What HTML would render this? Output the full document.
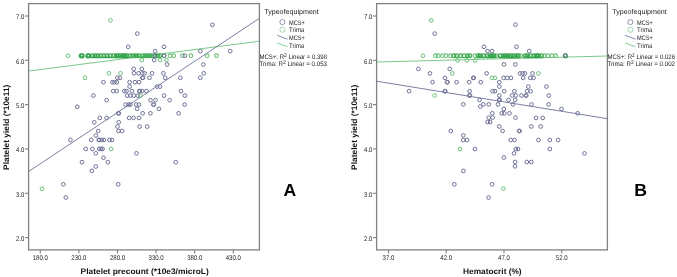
<!DOCTYPE html>
<html><head><meta charset="utf-8"><style>
html,body{margin:0;padding:0;background:#fff;width:677px;height:277px;overflow:hidden}
svg{display:block;filter:blur(0.3px);font-family:"Liberation Sans",sans-serif;text-rendering:geometricPrecision}
.ax{stroke:#808080;stroke-width:1.1}
.frame{fill:none;stroke:#808080;stroke-width:1.3}
.tk{font-size:6.8px;fill:#262626}
.ttl{font-size:8.1px;font-weight:bold;fill:#111}
.lg{font-size:6.6px;fill:#222}
.lg7{font-size:7px;fill:#222}
.bcl{fill:none;stroke:#8a8eac;stroke-width:0.95}
.gcl{fill:none;stroke:#9fd4a8;stroke-width:0.95}
.big{font-size:17.6px;font-weight:bold;fill:#000}
.bc{fill:none;stroke:#6e7297;stroke-width:1.0}
.gc{fill:none;stroke:#6cc07a;stroke-width:1.0}
.gb{fill:none;stroke:#42ad56;stroke-width:1.35}
.gd{fill:none;stroke:#36a44c;stroke-width:1.45}
.gl{fill:none;stroke:#6cc07a;stroke-width:1.1}
</style></head><body>
<svg width="677" height="277" viewBox="0 0 677 277">
<rect width="677" height="277" fill="#fff"/>
<line x1="28.5" y1="71.1" x2="259.4" y2="41.2" stroke="#7cc98a" stroke-width="1"/>
<line x1="28.5" y1="171.6" x2="259.4" y2="18.3" stroke="#7c80a6" stroke-width="1"/>
<line x1="376.5" y1="62" x2="607.4" y2="56" stroke="#7cc98a" stroke-width="1"/>
<line x1="376.5" y1="81.2" x2="607.4" y2="118.7" stroke="#7c80a6" stroke-width="1"/>
<g class="gl">
<circle cx="164.0" cy="55.7" r="1.85"/>
<circle cx="169.9" cy="55.7" r="1.85"/>
<circle cx="173.6" cy="55.7" r="1.85"/>
<circle cx="182.4" cy="55.7" r="1.85"/>
<circle cx="190.9" cy="55.7" r="1.85"/>
<circle cx="207.2" cy="55.7" r="1.85"/>
<circle cx="216.4" cy="55.7" r="1.85"/>
<circle cx="435.5" cy="55.7" r="1.85"/>
<circle cx="438.3" cy="55.7" r="1.85"/>
<circle cx="442.6" cy="55.7" r="1.85"/>
<circle cx="446.0" cy="55.7" r="1.85"/>
<circle cx="450.4" cy="55.7" r="1.85"/>
<circle cx="474.8" cy="55.7" r="1.85"/>
<circle cx="496.2" cy="55.7" r="1.85"/>
<circle cx="520.6" cy="55.7" r="1.85"/>
<circle cx="544.5" cy="55.7" r="1.85"/>
<circle cx="547.6" cy="55.7" r="1.85"/>
<circle cx="551.8" cy="55.7" r="1.85"/>
<circle cx="555.6" cy="55.7" r="1.85"/>
</g>
<g class="gb">
<circle cx="130.1" cy="55.7" r="1.85"/>
<circle cx="132.7" cy="55.7" r="1.85"/>
<circle cx="135.0" cy="55.7" r="1.85"/>
<circle cx="137.2" cy="55.7" r="1.85"/>
<circle cx="139.4" cy="55.7" r="1.85"/>
<circle cx="143.1" cy="55.7" r="1.85"/>
<circle cx="145.3" cy="55.7" r="1.85"/>
<circle cx="147.5" cy="55.7" r="1.85"/>
<circle cx="149.7" cy="55.7" r="1.85"/>
<circle cx="152.0" cy="55.7" r="1.85"/>
<circle cx="154.9" cy="55.7" r="1.85"/>
<circle cx="157.5" cy="55.7" r="1.85"/>
<circle cx="159.7" cy="55.7" r="1.85"/>
<circle cx="453.9" cy="55.7" r="1.85"/>
<circle cx="456.6" cy="55.7" r="1.85"/>
<circle cx="460.6" cy="55.7" r="1.85"/>
<circle cx="464.1" cy="55.7" r="1.85"/>
<circle cx="467.5" cy="55.7" r="1.85"/>
<circle cx="469.8" cy="55.7" r="1.85"/>
</g>
<g class="gd">
<circle cx="81.3" cy="55.7" r="1.85"/>
<circle cx="82.1" cy="55.7" r="1.85"/>
<circle cx="87.9" cy="55.7" r="1.85"/>
<circle cx="88.7" cy="55.7" r="1.85"/>
<circle cx="92.5" cy="55.7" r="1.85"/>
<circle cx="95.2" cy="55.7" r="1.85"/>
<circle cx="97.8" cy="55.7" r="1.85"/>
<circle cx="100.8" cy="55.7" r="1.85"/>
<circle cx="104.0" cy="55.7" r="1.85"/>
<circle cx="107.0" cy="55.7" r="1.85"/>
<circle cx="110.2" cy="55.7" r="1.85"/>
<circle cx="113.5" cy="55.7" r="1.85"/>
<circle cx="116.5" cy="55.7" r="1.85"/>
<circle cx="118.3" cy="55.7" r="1.85"/>
<circle cx="120.5" cy="55.7" r="1.85"/>
<circle cx="122.8" cy="55.7" r="1.85"/>
<circle cx="125.0" cy="55.7" r="1.85"/>
<circle cx="126.8" cy="55.7" r="1.85"/>
<circle cx="478.3" cy="55.7" r="1.85"/>
<circle cx="480.3" cy="55.7" r="1.85"/>
<circle cx="483.6" cy="55.7" r="1.85"/>
<circle cx="487.3" cy="55.7" r="1.85"/>
<circle cx="490.0" cy="55.7" r="1.85"/>
<circle cx="492.0" cy="55.7" r="1.85"/>
<circle cx="494.0" cy="55.7" r="1.85"/>
<circle cx="500.3" cy="55.7" r="1.85"/>
<circle cx="503.3" cy="55.7" r="1.85"/>
<circle cx="505.5" cy="55.7" r="1.85"/>
<circle cx="507.9" cy="55.7" r="1.85"/>
<circle cx="510.6" cy="55.7" r="1.85"/>
<circle cx="513.2" cy="55.7" r="1.85"/>
<circle cx="515.9" cy="55.7" r="1.85"/>
<circle cx="518.2" cy="55.7" r="1.85"/>
<circle cx="525.3" cy="55.7" r="1.85"/>
<circle cx="527.6" cy="55.7" r="1.85"/>
<circle cx="530.7" cy="55.7" r="1.85"/>
<circle cx="534.1" cy="55.7" r="1.85"/>
<circle cx="536.5" cy="55.7" r="1.85"/>
<circle cx="538.3" cy="55.7" r="1.85"/>
<circle cx="541.2" cy="55.7" r="1.85"/>
<circle cx="565.4" cy="55.7" r="1.85"/>
</g>
<g class="gc">
<circle cx="110.5" cy="20.4" r="1.85"/>
<circle cx="67.9" cy="55.7" r="1.85"/>
<circle cx="141.8" cy="60.1" r="1.85"/>
<circle cx="160.1" cy="60.1" r="1.85"/>
<circle cx="166.5" cy="60.1" r="1.85"/>
<circle cx="108.9" cy="73.3" r="1.85"/>
<circle cx="120.5" cy="73.3" r="1.85"/>
<circle cx="85.0" cy="77.8" r="1.85"/>
<circle cx="140.4" cy="95.6" r="1.85"/>
<circle cx="111.1" cy="148.9" r="1.85"/>
<circle cx="42.0" cy="188.8" r="1.85"/>
<circle cx="431.2" cy="20.4" r="1.85"/>
<circle cx="423.0" cy="55.7" r="1.85"/>
<circle cx="457.5" cy="60.4" r="1.85"/>
<circle cx="466.8" cy="60.4" r="1.85"/>
<circle cx="475.2" cy="60.4" r="1.85"/>
<circle cx="452.3" cy="73.4" r="1.85"/>
<circle cx="538.4" cy="73.4" r="1.85"/>
<circle cx="491.9" cy="77.9" r="1.85"/>
<circle cx="495.0" cy="77.9" r="1.85"/>
<circle cx="434.7" cy="95.5" r="1.85"/>
<circle cx="460.0" cy="149.0" r="1.85"/>
<circle cx="503.4" cy="188.6" r="1.85"/>
</g>
<g class="bc">
<circle cx="137.3" cy="33.6" r="1.85"/>
<circle cx="212.4" cy="24.8" r="1.85"/>
<circle cx="128.2" cy="46.8" r="1.85"/>
<circle cx="164.0" cy="46.8" r="1.85"/>
<circle cx="155.2" cy="51.2" r="1.85"/>
<circle cx="200.3" cy="51.2" r="1.85"/>
<circle cx="230.2" cy="51.2" r="1.85"/>
<circle cx="154.9" cy="55.7" r="1.85"/>
<circle cx="164.0" cy="55.7" r="1.85"/>
<circle cx="184.9" cy="55.7" r="1.85"/>
<circle cx="154.2" cy="60.1" r="1.85"/>
<circle cx="167.1" cy="64.5" r="1.85"/>
<circle cx="203.3" cy="64.5" r="1.85"/>
<circle cx="133.7" cy="68.9" r="1.85"/>
<circle cx="141.8" cy="68.9" r="1.85"/>
<circle cx="134.0" cy="73.3" r="1.85"/>
<circle cx="138.6" cy="73.3" r="1.85"/>
<circle cx="142.3" cy="73.3" r="1.85"/>
<circle cx="144.6" cy="73.3" r="1.85"/>
<circle cx="152.1" cy="73.3" r="1.85"/>
<circle cx="163.4" cy="73.3" r="1.85"/>
<circle cx="203.7" cy="73.3" r="1.85"/>
<circle cx="117.3" cy="77.8" r="1.85"/>
<circle cx="119.9" cy="77.8" r="1.85"/>
<circle cx="142.4" cy="77.8" r="1.85"/>
<circle cx="142.9" cy="77.8" r="1.85"/>
<circle cx="149.5" cy="77.8" r="1.85"/>
<circle cx="165.2" cy="77.8" r="1.85"/>
<circle cx="180.4" cy="77.8" r="1.85"/>
<circle cx="200.3" cy="77.8" r="1.85"/>
<circle cx="103.4" cy="82.2" r="1.85"/>
<circle cx="112.4" cy="82.2" r="1.85"/>
<circle cx="114.5" cy="82.2" r="1.85"/>
<circle cx="116.8" cy="82.2" r="1.85"/>
<circle cx="129.6" cy="82.2" r="1.85"/>
<circle cx="135.0" cy="82.2" r="1.85"/>
<circle cx="139.0" cy="82.2" r="1.85"/>
<circle cx="129.6" cy="86.6" r="1.85"/>
<circle cx="157.0" cy="86.6" r="1.85"/>
<circle cx="160.0" cy="86.6" r="1.85"/>
<circle cx="113.3" cy="91.1" r="1.85"/>
<circle cx="116.6" cy="91.1" r="1.85"/>
<circle cx="124.3" cy="91.1" r="1.85"/>
<circle cx="126.5" cy="91.1" r="1.85"/>
<circle cx="131.9" cy="91.1" r="1.85"/>
<circle cx="139.3" cy="91.1" r="1.85"/>
<circle cx="139.8" cy="91.1" r="1.85"/>
<circle cx="142.2" cy="91.1" r="1.85"/>
<circle cx="146.4" cy="91.1" r="1.85"/>
<circle cx="181.0" cy="91.1" r="1.85"/>
<circle cx="93.4" cy="95.6" r="1.85"/>
<circle cx="127.2" cy="95.6" r="1.85"/>
<circle cx="130.3" cy="95.6" r="1.85"/>
<circle cx="133.9" cy="95.6" r="1.85"/>
<circle cx="137.6" cy="95.6" r="1.85"/>
<circle cx="164.0" cy="95.6" r="1.85"/>
<circle cx="184.9" cy="95.6" r="1.85"/>
<circle cx="106.6" cy="100.2" r="1.85"/>
<circle cx="150.5" cy="100.2" r="1.85"/>
<circle cx="155.5" cy="100.2" r="1.85"/>
<circle cx="169.6" cy="100.2" r="1.85"/>
<circle cx="125.5" cy="104.6" r="1.85"/>
<circle cx="128.6" cy="104.6" r="1.85"/>
<circle cx="130.4" cy="104.6" r="1.85"/>
<circle cx="136.2" cy="104.6" r="1.85"/>
<circle cx="139.0" cy="104.6" r="1.85"/>
<circle cx="153.3" cy="104.6" r="1.85"/>
<circle cx="153.8" cy="104.6" r="1.85"/>
<circle cx="184.6" cy="104.6" r="1.85"/>
<circle cx="77.3" cy="106.8" r="1.85"/>
<circle cx="137.1" cy="108.8" r="1.85"/>
<circle cx="158.9" cy="108.8" r="1.85"/>
<circle cx="118.3" cy="113.3" r="1.85"/>
<circle cx="118.8" cy="113.3" r="1.85"/>
<circle cx="142.7" cy="113.3" r="1.85"/>
<circle cx="150.4" cy="113.3" r="1.85"/>
<circle cx="178.6" cy="113.3" r="1.85"/>
<circle cx="99.8" cy="117.9" r="1.85"/>
<circle cx="106.6" cy="117.9" r="1.85"/>
<circle cx="129.2" cy="117.9" r="1.85"/>
<circle cx="133.5" cy="117.9" r="1.85"/>
<circle cx="139.0" cy="117.9" r="1.85"/>
<circle cx="94.3" cy="122.3" r="1.85"/>
<circle cx="118.7" cy="122.3" r="1.85"/>
<circle cx="117.5" cy="126.6" r="1.85"/>
<circle cx="139.6" cy="126.6" r="1.85"/>
<circle cx="147.2" cy="126.6" r="1.85"/>
<circle cx="98.2" cy="131.0" r="1.85"/>
<circle cx="118.5" cy="131.0" r="1.85"/>
<circle cx="122.2" cy="131.0" r="1.85"/>
<circle cx="95.8" cy="135.5" r="1.85"/>
<circle cx="70.4" cy="139.9" r="1.85"/>
<circle cx="91.2" cy="139.9" r="1.85"/>
<circle cx="98.8" cy="139.9" r="1.85"/>
<circle cx="99.3" cy="139.9" r="1.85"/>
<circle cx="101.7" cy="139.9" r="1.85"/>
<circle cx="104.0" cy="139.9" r="1.85"/>
<circle cx="109.4" cy="139.9" r="1.85"/>
<circle cx="112.0" cy="139.9" r="1.85"/>
<circle cx="85.7" cy="148.9" r="1.85"/>
<circle cx="92.4" cy="148.9" r="1.85"/>
<circle cx="99.2" cy="148.9" r="1.85"/>
<circle cx="101.0" cy="148.9" r="1.85"/>
<circle cx="102.5" cy="148.9" r="1.85"/>
<circle cx="95.8" cy="153.3" r="1.85"/>
<circle cx="136.5" cy="153.3" r="1.85"/>
<circle cx="103.5" cy="157.7" r="1.85"/>
<circle cx="82.0" cy="162.2" r="1.85"/>
<circle cx="107.8" cy="162.2" r="1.85"/>
<circle cx="175.7" cy="162.2" r="1.85"/>
<circle cx="95.8" cy="166.5" r="1.85"/>
<circle cx="91.8" cy="170.8" r="1.85"/>
<circle cx="63.4" cy="184.3" r="1.85"/>
<circle cx="118.2" cy="184.3" r="1.85"/>
<circle cx="65.8" cy="197.5" r="1.85"/>
<circle cx="434.7" cy="33.6" r="1.85"/>
<circle cx="515.5" cy="24.7" r="1.85"/>
<circle cx="484.0" cy="46.8" r="1.85"/>
<circle cx="516.5" cy="46.8" r="1.85"/>
<circle cx="487.5" cy="51.1" r="1.85"/>
<circle cx="492.0" cy="51.1" r="1.85"/>
<circle cx="529.2" cy="51.1" r="1.85"/>
<circle cx="565.2" cy="55.7" r="1.85"/>
<circle cx="504.0" cy="64.4" r="1.85"/>
<circle cx="515.3" cy="64.4" r="1.85"/>
<circle cx="418.4" cy="68.9" r="1.85"/>
<circle cx="449.7" cy="68.9" r="1.85"/>
<circle cx="430.0" cy="73.4" r="1.85"/>
<circle cx="486.6" cy="73.4" r="1.85"/>
<circle cx="520.1" cy="73.4" r="1.85"/>
<circle cx="522.6" cy="73.4" r="1.85"/>
<circle cx="525.0" cy="73.4" r="1.85"/>
<circle cx="532.5" cy="73.4" r="1.85"/>
<circle cx="445.0" cy="77.9" r="1.85"/>
<circle cx="473.2" cy="77.9" r="1.85"/>
<circle cx="473.8" cy="77.9" r="1.85"/>
<circle cx="503.6" cy="77.9" r="1.85"/>
<circle cx="507.2" cy="77.9" r="1.85"/>
<circle cx="510.9" cy="77.9" r="1.85"/>
<circle cx="523.2" cy="77.9" r="1.85"/>
<circle cx="530.3" cy="77.9" r="1.85"/>
<circle cx="533.5" cy="77.9" r="1.85"/>
<circle cx="432.5" cy="82.2" r="1.85"/>
<circle cx="447.0" cy="82.2" r="1.85"/>
<circle cx="447.5" cy="82.2" r="1.85"/>
<circle cx="456.6" cy="82.2" r="1.85"/>
<circle cx="469.2" cy="82.2" r="1.85"/>
<circle cx="480.8" cy="82.2" r="1.85"/>
<circle cx="499.3" cy="82.2" r="1.85"/>
<circle cx="499.3" cy="86.6" r="1.85"/>
<circle cx="528.3" cy="86.6" r="1.85"/>
<circle cx="546.4" cy="86.6" r="1.85"/>
<circle cx="409.1" cy="91.2" r="1.85"/>
<circle cx="444.8" cy="91.2" r="1.85"/>
<circle cx="445.3" cy="91.2" r="1.85"/>
<circle cx="469.6" cy="91.2" r="1.85"/>
<circle cx="492.5" cy="91.2" r="1.85"/>
<circle cx="495.0" cy="91.2" r="1.85"/>
<circle cx="504.2" cy="91.2" r="1.85"/>
<circle cx="514.4" cy="91.2" r="1.85"/>
<circle cx="527.1" cy="91.2" r="1.85"/>
<circle cx="530.6" cy="91.2" r="1.85"/>
<circle cx="469.4" cy="95.5" r="1.85"/>
<circle cx="469.9" cy="95.5" r="1.85"/>
<circle cx="499.3" cy="95.5" r="1.85"/>
<circle cx="512.2" cy="95.5" r="1.85"/>
<circle cx="515.7" cy="95.5" r="1.85"/>
<circle cx="521.4" cy="95.5" r="1.85"/>
<circle cx="525.8" cy="95.5" r="1.85"/>
<circle cx="526.3" cy="95.5" r="1.85"/>
<circle cx="548.8" cy="95.5" r="1.85"/>
<circle cx="479.6" cy="99.9" r="1.85"/>
<circle cx="499.1" cy="99.9" r="1.85"/>
<circle cx="499.6" cy="99.9" r="1.85"/>
<circle cx="508.5" cy="99.9" r="1.85"/>
<circle cx="515.2" cy="99.9" r="1.85"/>
<circle cx="463.3" cy="104.4" r="1.85"/>
<circle cx="483.3" cy="104.4" r="1.85"/>
<circle cx="488.8" cy="104.4" r="1.85"/>
<circle cx="498.0" cy="104.4" r="1.85"/>
<circle cx="513.0" cy="104.4" r="1.85"/>
<circle cx="531.5" cy="104.4" r="1.85"/>
<circle cx="548.6" cy="104.4" r="1.85"/>
<circle cx="480.3" cy="106.5" r="1.85"/>
<circle cx="503.8" cy="108.9" r="1.85"/>
<circle cx="561.5" cy="108.9" r="1.85"/>
<circle cx="492.3" cy="113.3" r="1.85"/>
<circle cx="501.7" cy="113.3" r="1.85"/>
<circle cx="504.2" cy="113.3" r="1.85"/>
<circle cx="509.5" cy="113.3" r="1.85"/>
<circle cx="577.6" cy="113.3" r="1.85"/>
<circle cx="488.8" cy="117.6" r="1.85"/>
<circle cx="492.5" cy="117.6" r="1.85"/>
<circle cx="515.5" cy="117.6" r="1.85"/>
<circle cx="536.1" cy="117.9" r="1.85"/>
<circle cx="542.7" cy="117.9" r="1.85"/>
<circle cx="487.6" cy="122.0" r="1.85"/>
<circle cx="490.1" cy="122.0" r="1.85"/>
<circle cx="499.3" cy="126.5" r="1.85"/>
<circle cx="531.3" cy="126.5" r="1.85"/>
<circle cx="540.6" cy="126.5" r="1.85"/>
<circle cx="450.8" cy="131.0" r="1.85"/>
<circle cx="502.6" cy="131.0" r="1.85"/>
<circle cx="519.1" cy="131.0" r="1.85"/>
<circle cx="519.6" cy="131.0" r="1.85"/>
<circle cx="463.3" cy="135.4" r="1.85"/>
<circle cx="463.3" cy="140.0" r="1.85"/>
<circle cx="467.0" cy="140.0" r="1.85"/>
<circle cx="510.7" cy="140.0" r="1.85"/>
<circle cx="514.4" cy="140.0" r="1.85"/>
<circle cx="538.5" cy="140.0" r="1.85"/>
<circle cx="549.8" cy="140.0" r="1.85"/>
<circle cx="558.1" cy="140.0" r="1.85"/>
<circle cx="475.0" cy="149.0" r="1.85"/>
<circle cx="515.8" cy="149.0" r="1.85"/>
<circle cx="518.0" cy="149.0" r="1.85"/>
<circle cx="549.8" cy="149.0" r="1.85"/>
<circle cx="514.0" cy="153.4" r="1.85"/>
<circle cx="584.5" cy="153.4" r="1.85"/>
<circle cx="503.9" cy="157.5" r="1.85"/>
<circle cx="515.2" cy="162.0" r="1.85"/>
<circle cx="526.8" cy="162.0" r="1.85"/>
<circle cx="531.3" cy="162.0" r="1.85"/>
<circle cx="515.0" cy="166.3" r="1.85"/>
<circle cx="463.4" cy="170.9" r="1.85"/>
<circle cx="454.3" cy="184.3" r="1.85"/>
<circle cx="492.2" cy="184.3" r="1.85"/>
<circle cx="488.6" cy="197.6" r="1.85"/>
</g>
<line x1="25.0" y1="16.0" x2="28.6" y2="16.0" class="ax"/>
<text x="16.09" y="19.3" class="tk" textLength="8.31" lengthAdjust="spacingAndGlyphs">7.0</text>
<line x1="25.0" y1="60.3" x2="28.6" y2="60.3" class="ax"/>
<text x="16.09" y="63.6" class="tk" textLength="8.31" lengthAdjust="spacingAndGlyphs">6.0</text>
<line x1="25.0" y1="104.6" x2="28.6" y2="104.6" class="ax"/>
<text x="16.09" y="107.9" class="tk" textLength="8.31" lengthAdjust="spacingAndGlyphs">5.0</text>
<line x1="25.0" y1="149.0" x2="28.6" y2="149.0" class="ax"/>
<text x="16.09" y="152.3" class="tk" textLength="8.31" lengthAdjust="spacingAndGlyphs">4.0</text>
<line x1="25.0" y1="193.3" x2="28.6" y2="193.3" class="ax"/>
<text x="16.09" y="196.6" class="tk" textLength="8.31" lengthAdjust="spacingAndGlyphs">3.0</text>
<line x1="25.0" y1="237.6" x2="28.6" y2="237.6" class="ax"/>
<text x="16.09" y="240.9" class="tk" textLength="8.31" lengthAdjust="spacingAndGlyphs">2.0</text>
<line x1="40.3" y1="249.9" x2="40.3" y2="253.5" class="ax"/>
<text x="32.73" y="259.9" class="tk" textLength="15.14" lengthAdjust="spacingAndGlyphs">180.0</text>
<line x1="78.9" y1="249.9" x2="78.9" y2="253.5" class="ax"/>
<text x="71.33" y="259.9" class="tk" textLength="15.14" lengthAdjust="spacingAndGlyphs">230.0</text>
<line x1="117.5" y1="249.9" x2="117.5" y2="253.5" class="ax"/>
<text x="109.93" y="259.9" class="tk" textLength="15.14" lengthAdjust="spacingAndGlyphs">280.0</text>
<line x1="156.1" y1="249.9" x2="156.1" y2="253.5" class="ax"/>
<text x="148.53" y="259.9" class="tk" textLength="15.14" lengthAdjust="spacingAndGlyphs">330.0</text>
<line x1="194.7" y1="249.9" x2="194.7" y2="253.5" class="ax"/>
<text x="187.13" y="259.9" class="tk" textLength="15.14" lengthAdjust="spacingAndGlyphs">380.0</text>
<line x1="233.3" y1="249.9" x2="233.3" y2="253.5" class="ax"/>
<text x="225.73" y="259.9" class="tk" textLength="15.14" lengthAdjust="spacingAndGlyphs">430.0</text>
<rect x="28.60" y="3.60" width="230.80" height="246.30" class="frame"/>
<text x="80.6" y="273.7" class="ttl" textLength="128.1" lengthAdjust="spacingAndGlyphs">Platelet precount (*10e3/microL)</text>
<text transform="translate(9.3,169.9) rotate(-90)" class="ttl" textLength="85.3" lengthAdjust="spacingAndGlyphs">Platelet yield (*10e11)</text>
<text x="264.2" y="13.5" class="lg7" textLength="54.6" lengthAdjust="spacingAndGlyphs">Typeofequipment</text>
<circle cx="282.4" cy="22.1" r="2.55" class="bcl"/>
<text x="289.1" y="24.6" class="lg" textLength="15.8" lengthAdjust="spacingAndGlyphs">MCS+</text>
<circle cx="282.4" cy="29.7" r="2.55" class="gcl"/>
<text x="289.1" y="32.3" class="lg" textLength="15.2" lengthAdjust="spacingAndGlyphs">Trima</text>
<line x1="277.0" y1="35.3" x2="287.6" y2="39.2" stroke="#7c80a6" stroke-width="0.9"/>
<text x="289.1" y="40.4" class="lg" textLength="15.8" lengthAdjust="spacingAndGlyphs">MCS+</text>
<line x1="277.0" y1="43.1" x2="287.6" y2="46.7" stroke="#7cc98a" stroke-width="0.9"/>
<text x="289.1" y="48.2" class="lg" textLength="15.2" lengthAdjust="spacingAndGlyphs">Trima</text>
<text x="259.5" y="59.0" class="lg" textLength="67.5" lengthAdjust="spacingAndGlyphs">MCS+: R<tspan dy="-2.4" font-size="5.3">2</tspan><tspan dy="2.4"> Linear = 0.398</tspan></text>
<text x="259.5" y="66.0" class="lg" textLength="67.5" lengthAdjust="spacingAndGlyphs">Trima: R<tspan dy="-2.4" font-size="5.3">2</tspan><tspan dy="2.4"> Linear = 0.053</tspan></text>
<text x="283.6" y="196" class="big">A</text>
<line x1="373.0" y1="16.0" x2="376.6" y2="16.0" class="ax"/>
<text x="364.09" y="19.3" class="tk" textLength="8.31" lengthAdjust="spacingAndGlyphs">7.0</text>
<line x1="373.0" y1="60.3" x2="376.6" y2="60.3" class="ax"/>
<text x="364.09" y="63.6" class="tk" textLength="8.31" lengthAdjust="spacingAndGlyphs">6.0</text>
<line x1="373.0" y1="104.6" x2="376.6" y2="104.6" class="ax"/>
<text x="364.09" y="107.9" class="tk" textLength="8.31" lengthAdjust="spacingAndGlyphs">5.0</text>
<line x1="373.0" y1="149.0" x2="376.6" y2="149.0" class="ax"/>
<text x="364.09" y="152.3" class="tk" textLength="8.31" lengthAdjust="spacingAndGlyphs">4.0</text>
<line x1="373.0" y1="193.3" x2="376.6" y2="193.3" class="ax"/>
<text x="364.09" y="196.6" class="tk" textLength="8.31" lengthAdjust="spacingAndGlyphs">3.0</text>
<line x1="373.0" y1="237.6" x2="376.6" y2="237.6" class="ax"/>
<text x="364.09" y="240.9" class="tk" textLength="8.31" lengthAdjust="spacingAndGlyphs">2.0</text>
<line x1="388.5" y1="249.9" x2="388.5" y2="253.5" class="ax"/>
<text x="382.61" y="259.9" class="tk" textLength="11.77" lengthAdjust="spacingAndGlyphs">37.0</text>
<line x1="446.2" y1="249.9" x2="446.2" y2="253.5" class="ax"/>
<text x="440.31" y="259.9" class="tk" textLength="11.77" lengthAdjust="spacingAndGlyphs">42.0</text>
<line x1="504.0" y1="249.9" x2="504.0" y2="253.5" class="ax"/>
<text x="498.11" y="259.9" class="tk" textLength="11.77" lengthAdjust="spacingAndGlyphs">47.0</text>
<line x1="561.7" y1="249.9" x2="561.7" y2="253.5" class="ax"/>
<text x="555.81" y="259.9" class="tk" textLength="11.77" lengthAdjust="spacingAndGlyphs">52.0</text>
<rect x="376.60" y="3.60" width="230.80" height="246.30" class="frame"/>
<text x="463.1" y="273.7" class="ttl" textLength="58.5" lengthAdjust="spacingAndGlyphs">Hematocrit (%)</text>
<text transform="translate(357.3,169.9) rotate(-90)" class="ttl" textLength="85.3" lengthAdjust="spacingAndGlyphs">Platelet yield (*10e11)</text>
<text x="612.2" y="13.5" class="lg7" textLength="54.6" lengthAdjust="spacingAndGlyphs">Typeofequipment</text>
<circle cx="630.4" cy="22.1" r="2.55" class="bcl"/>
<text x="637.1" y="24.6" class="lg" textLength="15.8" lengthAdjust="spacingAndGlyphs">MCS+</text>
<circle cx="630.4" cy="29.7" r="2.55" class="gcl"/>
<text x="637.1" y="32.3" class="lg" textLength="15.2" lengthAdjust="spacingAndGlyphs">Trima</text>
<line x1="625.0" y1="35.3" x2="635.6" y2="39.2" stroke="#7c80a6" stroke-width="0.9"/>
<text x="637.1" y="40.4" class="lg" textLength="15.8" lengthAdjust="spacingAndGlyphs">MCS+</text>
<line x1="625.0" y1="43.1" x2="635.6" y2="46.7" stroke="#7cc98a" stroke-width="0.9"/>
<text x="637.1" y="48.2" class="lg" textLength="15.2" lengthAdjust="spacingAndGlyphs">Trima</text>
<text x="607.5" y="59.0" class="lg" textLength="67.5" lengthAdjust="spacingAndGlyphs">MCS+: R<tspan dy="-2.4" font-size="5.3">2</tspan><tspan dy="2.4"> Linear = 0.026</tspan></text>
<text x="607.5" y="66.0" class="lg" textLength="67.5" lengthAdjust="spacingAndGlyphs">Trima: R<tspan dy="-2.4" font-size="5.3">2</tspan><tspan dy="2.4"> Linear = 0.002</tspan></text>
<text x="634.3" y="196" class="big">B</text>
</svg>
</body></html>
